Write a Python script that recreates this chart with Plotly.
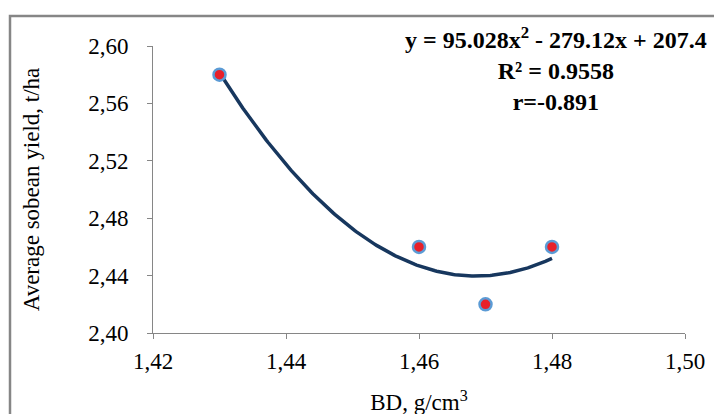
import numpy as np
import plotly.graph_objects as go

bd = [1.43, 1.46, 1.47, 1.48]
yield_t = [2.58, 2.46, 2.42, 2.46]
x_ticks = [1.42, 1.44, 1.46, 1.48, 1.50]
y_ticks = [2.40, 2.44, 2.48, 2.52, 2.56, 2.60]

coef = np.polyfit(bd, yield_t, 2)
xs = np.linspace(min(bd), max(bd), 200)
ys = np.polyval(coef, xs)

FONT = "Liberation Serif"
W, H = 722, 414
OFF = 8  # page body offset
L, T = 153 - OFF, 46 - OFF
pw, ph = 532, 287
R = W - L - pw
B = H - T - ph

fig = go.Figure()
fig.add_trace(go.Scatter(x=xs, y=ys, mode="lines",
                         line=dict(color="#17375e", width=3.5), hoverinfo="skip"))
fig.add_trace(go.Scatter(x=bd, y=yield_t, mode="markers",
                         marker=dict(size=12, color="#e8202a",
                                     line=dict(color="#5b9bd5", width=2.5))))

fig.update_layout(
    width=W, height=H, margin=dict(l=L, r=R, t=T, b=B, autoexpand=False),
    paper_bgcolor="white", plot_bgcolor="white", showlegend=False,
    separators=", ",
    font=dict(family=FONT, size=21, color="black"),
    xaxis=dict(range=[1.42, 1.50], tickvals=x_ticks, tickformat=".2f",
               showgrid=False, zeroline=False, showline=True, linecolor="#868686",
               linewidth=1, ticks="outside", ticklen=5, tickcolor="#868686",
               tickfont=dict(size=23), ticklabelstandoff=2,
               title=dict(text="BD, g/cm<sup>3</sup>", font=dict(size=23), standoff=21)),
    yaxis=dict(range=[2.40, 2.60], tickvals=y_ticks, tickformat=".2f",
               showgrid=False, zeroline=False, showline=True, linecolor="#868686",
               linewidth=1, ticks="outside", ticklen=5, tickcolor="#868686",
               tickfont=dict(size=23), ticklabelstandoff=14,
               title=dict(text="Average sobean yield, t/ha", font=dict(size=23), standoff=42)),
)

fig.add_shape(type="rect", xref="paper", yref="paper",
              x0=(10 - OFF - L) / pw, x1=1.3, y0=-0.5, y1=(T + ph - (16 - OFF)) / ph,
              line=dict(color="#868686", width=2.5), fillcolor="rgba(0,0,0,0)", layer="below")

eq = "y = 95.028x<sup>2</sup> - 279.12x + 207.4<br>R² = 0.9558<br>r=-0.891"
fig.add_annotation(xref="paper", yref="paper", x=(556 - OFF - L) / pw,
                   y=(T + ph - (21 - OFF)) / ph,
                   xanchor="center", yanchor="top", showarrow=False, align="center",
                   text="<b>" + eq + "</b>", font=dict(family=FONT, size=24, color="black"))

fig.write_html("out.html")
